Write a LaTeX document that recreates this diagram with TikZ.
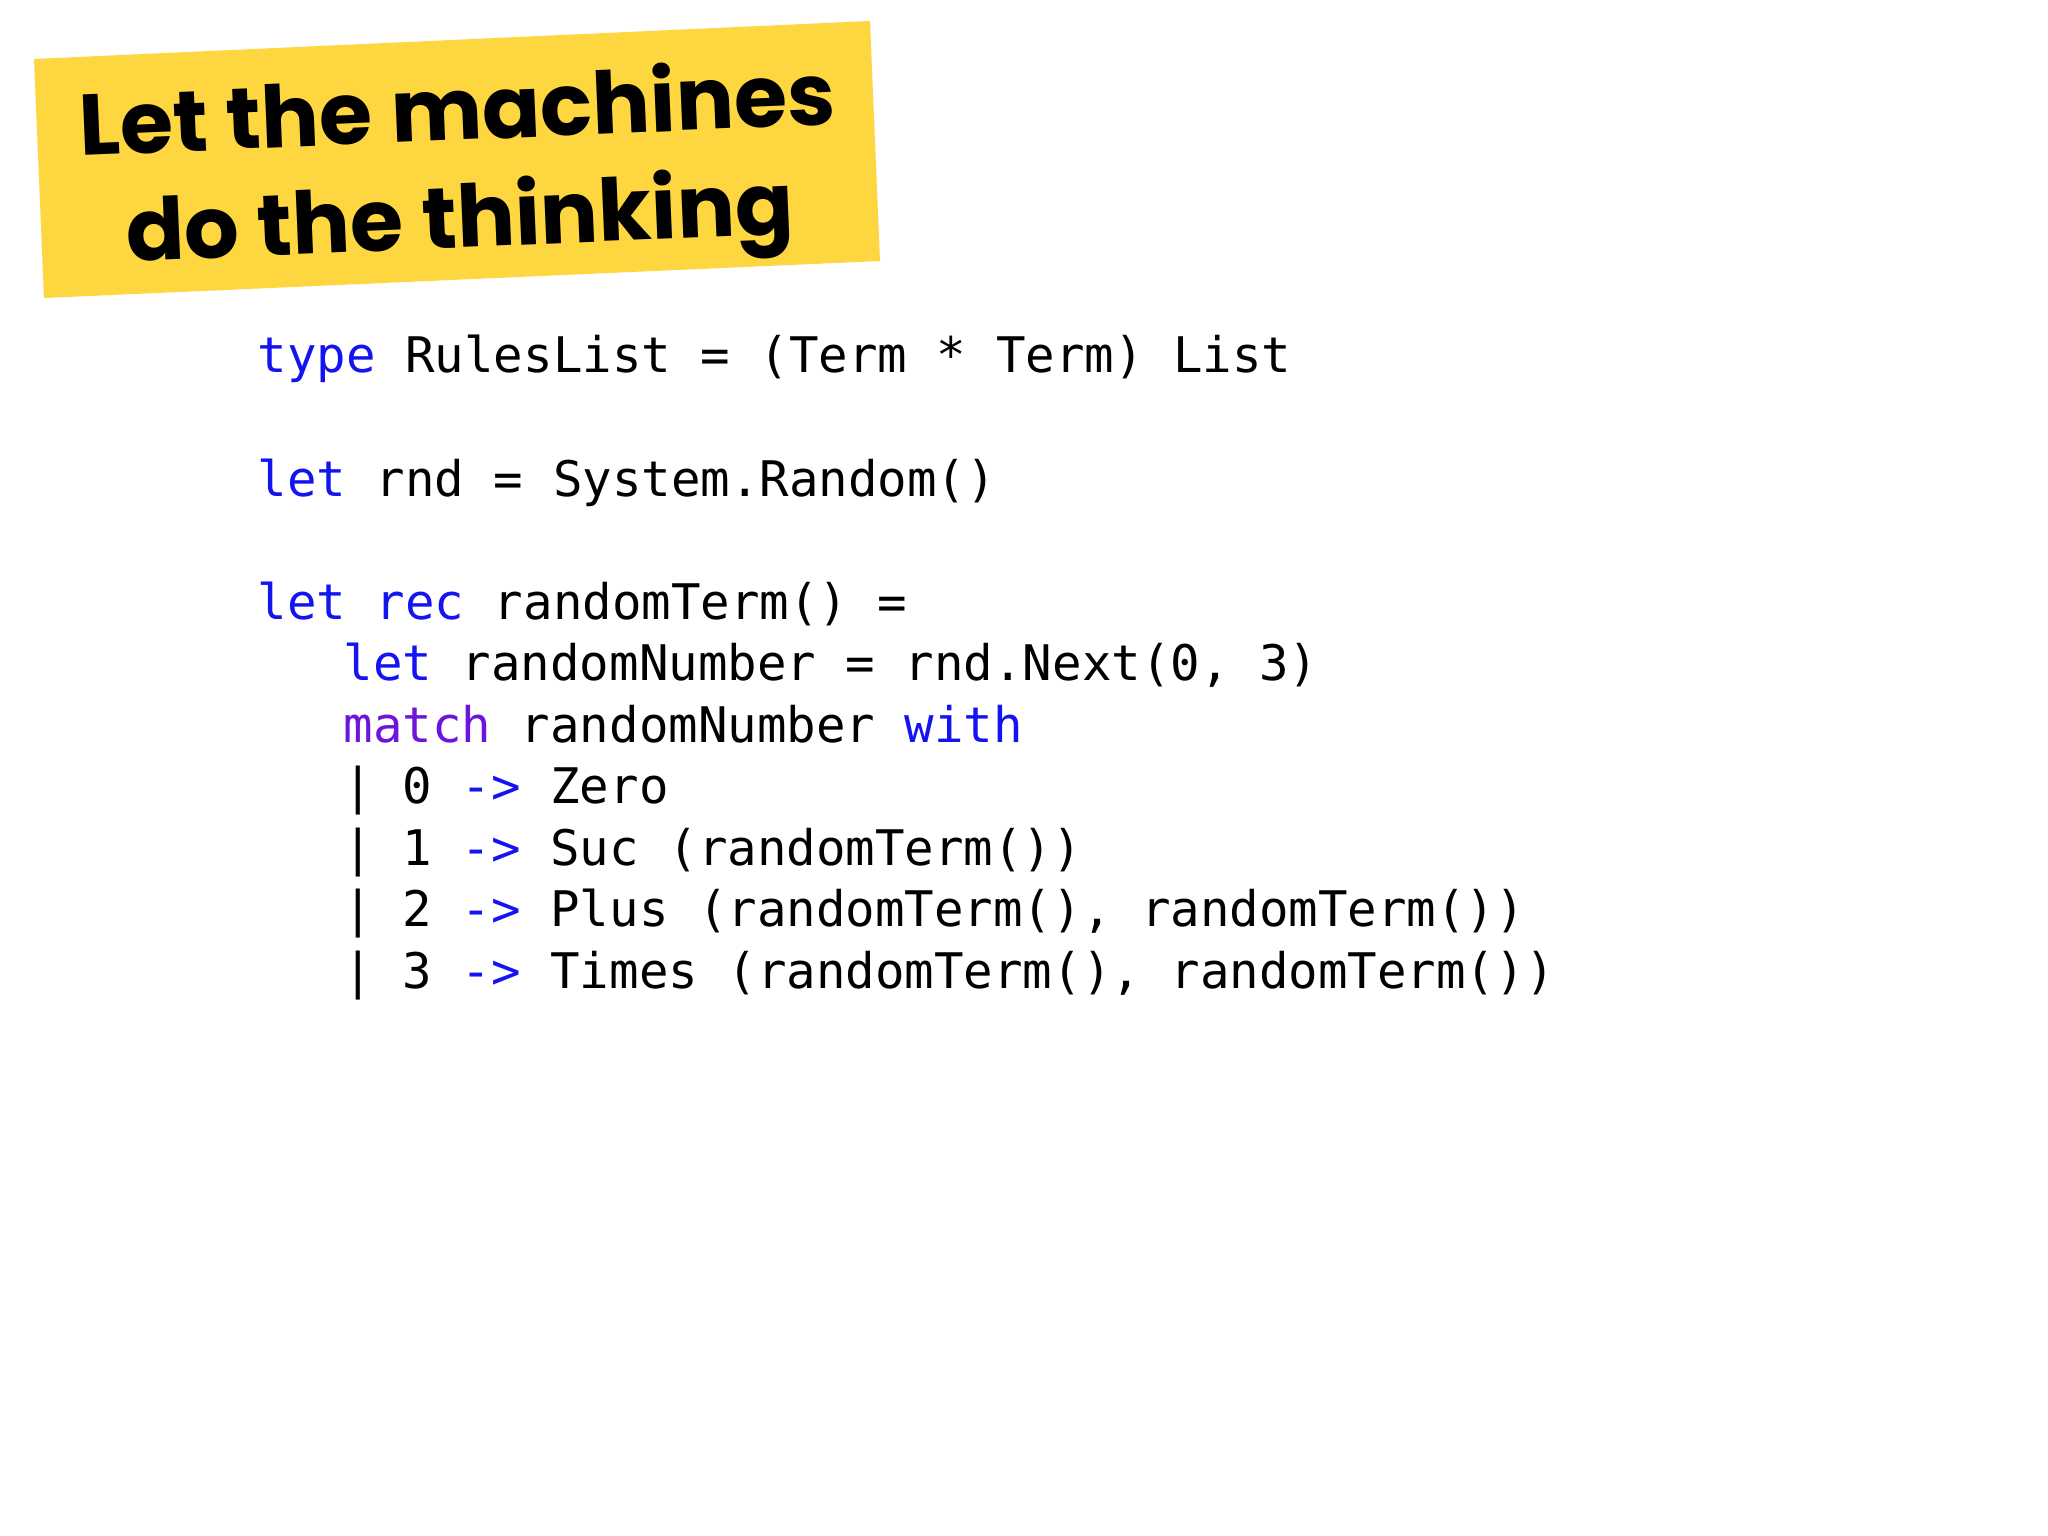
\documentclass[tikz,border=0pt]{standalone}
\usepackage{fontspec}
\setmainfont{Poppins}
\newfontfamily\codefont{DejaVu Sans Mono}
\definecolor{kw}{RGB}{20,20,240}
\definecolor{kwm}{RGB}{110,20,220}
\definecolor{banner}{RGB}{253,214,64}
\begin{document}
\begin{tikzpicture}[x=0.01cm,y=-0.01cm,
  code/.style={anchor=base west,inner sep=0pt,font=\codefont\fontsize{13.95pt}{16pt}\selectfont},
  title/.style={rotate=2.4,inner sep=0pt,font=\bfseries\fontsize{24.5pt}{30pt}\selectfont}]
\useasboundingbox (0,0) rectangle (2048,1536);
\fill[white] (0,0) rectangle (2048,1536);
\fill[banner] (34,59) -- (870,21) -- (880,261) -- (44,298) -- cycle;
\node[title] (t1) at (457,106) {Let the machines};
\node[title] (t2) at (460,225) {do the thinking};
\newcommand\kw[1]{\textcolor{kw}{#1}}
\node[code] (l1) at (257,372) {\kw{type} RulesList = (Term * Term) List};
\node[code] (l2) at (257,496) {\kw{let} rnd = System.Random()};
\node[code] (l3) at (257,619) {\kw{let} \kw{rec} randomTerm() =};
\node[code] (l4) at (343,680) {\kw{let} randomNumber = rnd.Next(0, 3)};
\node[code] (l5) at (343,742) {\textcolor{kwm}{match} randomNumber \kw{with}};
\node[code] (l6) at (343,803) {| 0 \kw{->} Zero};
\node[code] (l7) at (343,865) {| 1 \kw{->} Suc (randomTerm())};
\node[code] (l8) at (343,926) {| 2 \kw{->} Plus (randomTerm(), randomTerm())};
\node[code] (l9) at (343,988) {| 3 \kw{->} Times (randomTerm(), randomTerm())};
\end{tikzpicture}
\end{document}
